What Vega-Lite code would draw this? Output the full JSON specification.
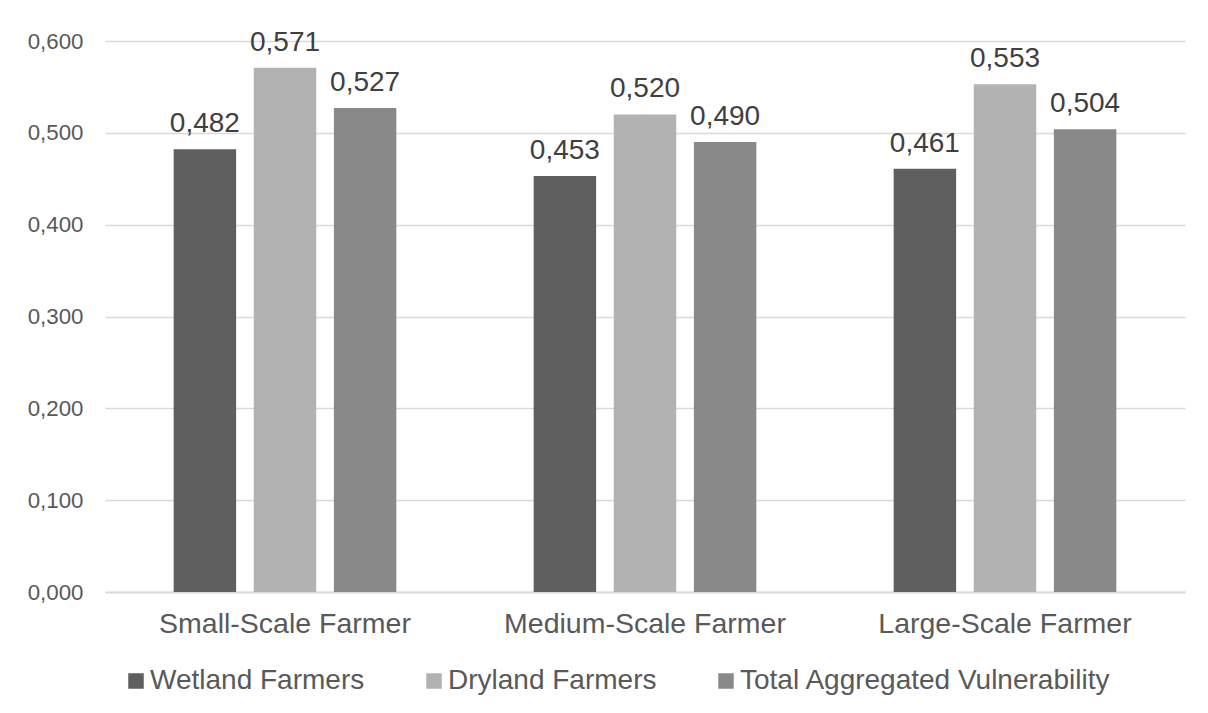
{
  "$schema": "https://vega.github.io/schema/vega-lite/v6.json",
  "width": 1080,
  "height": 551,
  "autosize": {"type": "none"},
  "padding": {"left": 105, "top": 41, "right": 23, "bottom": 121},
  "background": "white",
  "config": {
    "locale": {"number": {"decimal": ",", "thousands": ".", "grouping": [3], "currency": ["", ""]}},
    "view": {"stroke": null},
    "font": "Liberation Sans"
  },
  "data": {
    "values": [
      {"farmer": "Small-Scale Farmer", "group": "Wetland Farmers", "value": 0.482},
      {"farmer": "Small-Scale Farmer", "group": "Dryland Farmers", "value": 0.571},
      {"farmer": "Small-Scale Farmer", "group": "Total Aggregated Vulnerability", "value": 0.527},
      {"farmer": "Medium-Scale Farmer", "group": "Wetland Farmers", "value": 0.453},
      {"farmer": "Medium-Scale Farmer", "group": "Dryland Farmers", "value": 0.520},
      {"farmer": "Medium-Scale Farmer", "group": "Total Aggregated Vulnerability", "value": 0.490},
      {"farmer": "Large-Scale Farmer", "group": "Wetland Farmers", "value": 0.461},
      {"farmer": "Large-Scale Farmer", "group": "Dryland Farmers", "value": 0.553},
      {"farmer": "Large-Scale Farmer", "group": "Total Aggregated Vulnerability", "value": 0.504}
    ]
  },
  "encoding": {
    "x": {
      "field": "farmer", "type": "nominal",
      "sort": ["Small-Scale Farmer", "Medium-Scale Farmer", "Large-Scale Farmer"],
      "scale": {"paddingInner": 0.3814, "paddingOuter": 0.1907},
      "axis": {
        "title": null, "labelAngle": 0, "ticks": false,
        "domain": true, "domainColor": "#d9d9d9", "domainWidth": 2,
        "labelFontSize": 28.5, "labelColor": "#595959", "labelBaseline": "alphabetic",
        "labelPadding": 40, "labelLimit": 600
      }
    },
    "xOffset": {
      "field": "group", "type": "nominal",
      "sort": ["Wetland Farmers", "Dryland Farmers", "Total Aggregated Vulnerability"],
      "scale": {"paddingInner": 0.22, "paddingOuter": 0}
    },
    "y": {
      "field": "value", "type": "quantitative",
      "scale": {"domain": [0, 0.6]},
      "axis": {
        "title": null, "values": [0, 0.1, 0.2, 0.3, 0.4, 0.5, 0.6], "format": ".3f",
        "grid": true, "gridColor": "#d9d9d9", "gridWidth": 1.3,
        "domain": false, "ticks": false, "labelPadding": 22,
        "labelFontSize": 22.3, "labelColor": "#595959"
      }
    }
  },
  "layer": [
    {
      "mark": {"type": "bar"},
      "encoding": {
        "color": {
          "field": "group", "type": "nominal",
          "scale": {
            "domain": ["Wetland Farmers", "Dryland Farmers", "Total Aggregated Vulnerability"],
            "range": ["#5f5f5f", "#b2b2b2", "#898989"]
          },
          "legend": {
            "orient": "none", "legendX": 17, "legendY": 626,
            "direction": "horizontal", "columns": 3, "title": null,
            "symbolType": "square", "symbolSize": 240, "symbolStrokeWidth": 0, "symbolOpacity": 1,
            "labelFontSize": 28, "labelColor": "#595959", "labelLimit": 600,
            "columnPadding": 55, "labelOffset": 0
          }
        }
      }
    },
    {
      "mark": {"type": "text", "baseline": "alphabetic", "dy": -17, "fontSize": 28, "color": "#404040"},
      "encoding": {"text": {"field": "value", "type": "quantitative", "format": ".3f"}}
    }
  ]
}
